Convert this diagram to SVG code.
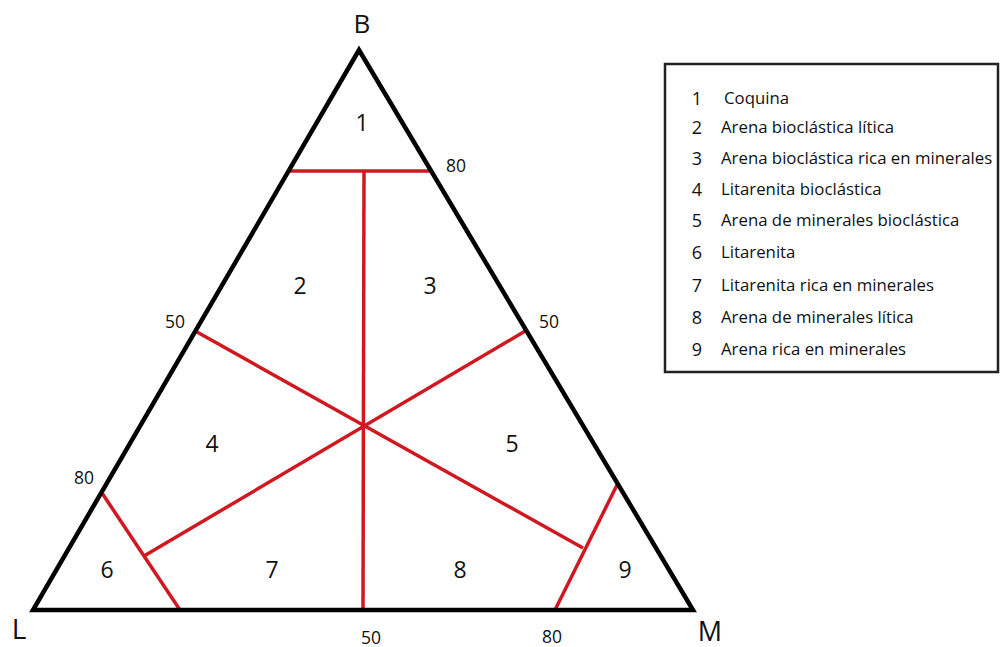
<svg xmlns="http://www.w3.org/2000/svg" width="1000" height="647" viewBox="0 0 1000 647">
<style>
.tri{fill:none;stroke:#000;stroke-width:4.5;stroke-linejoin:miter}
.red{stroke:#d01820;stroke-width:3.5;fill:none;stroke-linecap:butt}
.ax{font-family:"Open Sans","Liberation Sans",sans-serif;font-size:26px;fill:#111;text-anchor:middle}
.tk{font-family:"Open Sans","Liberation Sans",sans-serif;font-size:17.5px;fill:#111}
.rg{font-family:"Open Sans","Liberation Sans",sans-serif;font-size:23px;fill:#111;text-anchor:middle}
.ln{font-family:"Open Sans","Liberation Sans",sans-serif;font-size:18px;fill:#111;text-anchor:middle}
.lt{font-family:"Open Sans","Liberation Sans",sans-serif;font-size:16.8px;fill:#111}
</style>
<rect width="1000" height="647" fill="#fff"/>
<g id="connectors">
<line class="red" x1="289" y1="171" x2="433" y2="171"/>
<line class="red" x1="364" y1="171" x2="363" y2="610"/>
<line class="red" x1="197" y1="332" x2="583" y2="548"/>
<line class="red" x1="527" y1="330" x2="144" y2="556"/>
<line class="red" x1="102" y1="493" x2="180" y2="610"/>
<line class="red" x1="617" y1="485" x2="555" y2="610"/>
</g>
<g id="triangle">
<polygon class="tri" points="359,50 33,610 693,610"/>
</g>
<g id="axis-labels">
<text class="ax" x="362" y="33">B</text>
<text class="ax" x="19" y="639" style="font-size:28px">L</text>
<text class="ax" x="710" y="641" style="font-size:27px">M</text>
</g>
<g id="ticks">
<text class="tk" x="446" y="172">80</text>
<text class="tk" x="165" y="328">50</text>
<text class="tk" x="539" y="328">50</text>
<text class="tk" x="74" y="484">80</text>
<text class="tk" x="361" y="644">50</text>
<text class="tk" x="542" y="643">80</text>
</g>
<g id="regions">
<text class="rg" x="362" y="131">1</text>
<text class="rg" x="300" y="294">2</text>
<text class="rg" x="430" y="294">3</text>
<text class="rg" x="212" y="452">4</text>
<text class="rg" x="512" y="452">5</text>
<text class="rg" x="107" y="578">6</text>
<text class="rg" x="272" y="578">7</text>
<text class="rg" x="460" y="578">8</text>
<text class="rg" x="625" y="578">9</text>
</g>
<g id="legend">
<rect x="665" y="64" width="333" height="308" fill="#fff" stroke="#222" stroke-width="2.5"/>
<text class="ln" x="697" y="105">1</text><text class="lt" x="724" y="104">Coquina</text>
<text class="ln" x="697" y="134">2</text><text class="lt" x="721" y="133">Arena bioclástica lítica</text>
<text class="ln" x="697" y="165">3</text><text class="lt" x="721" y="164">Arena bioclástica rica en minerales</text>
<text class="ln" x="697" y="196">4</text><text class="lt" x="721" y="195">Litarenita bioclástica</text>
<text class="ln" x="697" y="227">5</text><text class="lt" x="721" y="226">Arena de minerales bioclástica</text>
<text class="ln" x="697" y="259">6</text><text class="lt" x="721" y="258">Litarenita</text>
<text class="ln" x="697" y="292">7</text><text class="lt" x="721" y="291">Litarenita rica en minerales</text>
<text class="ln" x="697" y="324">8</text><text class="lt" x="721" y="323">Arena de minerales lítica</text>
<text class="ln" x="697" y="356">9</text><text class="lt" x="721" y="355">Arena rica en minerales</text>
</g>
</svg>
